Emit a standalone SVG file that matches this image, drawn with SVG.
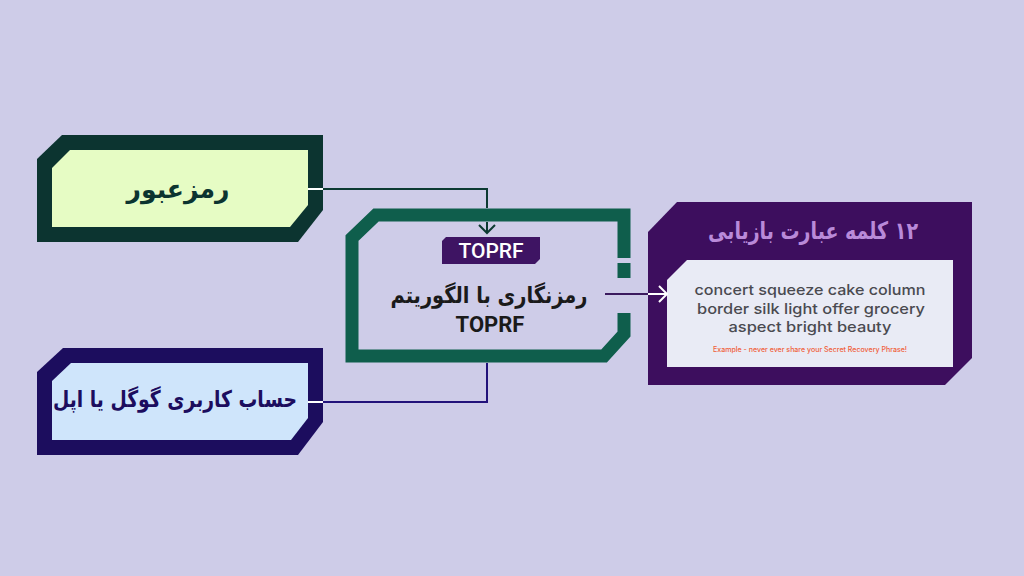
<svg xmlns="http://www.w3.org/2000/svg" width="1024" height="576" viewBox="0 0 1024 576">
<style>
.fa{font-family:"DejaVu Sans",sans-serif;font-weight:bold;text-anchor:middle}
.en{font-family:Inter,"Open Sans","Liberation Sans",sans-serif;text-anchor:middle;font-weight:500}
.ln{fill:none;stroke-width:2}
</style>
<rect width="1024" height="576" fill="#cecce8"/>
<g id="node-password">
<path d="M62,135 L323,135 L323,210 L298,242 L37,242 L37,159 Z" fill="#0c3430"/>
<path d="M70,150 L308,150 L308,205 L290,227 L52,227 L52,168 Z" fill="#e6fcc4"/>
<text class="fa" x="178" y="198" font-size="26" fill="#0c3430" direction="rtl" textLength="103" lengthAdjust="spacingAndGlyphs">رمزعبور</text>
</g>
<g id="node-account">
<path d="M63,348 L323,348 L323,422 L298,455 L37,455 L37,372 Z" fill="#1c0d5e"/>
<path d="M71,363 L308,363 L308,418 L291,440 L52,440 L52,381 Z" fill="#cfe5fb"/>
<text class="fa" x="175" y="407" font-size="23" fill="#1c0d5e" direction="rtl" textLength="244" lengthAdjust="spacingAndGlyphs">حساب کاربری گوگل یا اپل</text>
</g>
<g id="node-toprf">
<path d="M624,258 L624,215 L376,215 L352,238 L352,356 L604,356 L624,334 L624,313" fill="none" stroke="#0f5e4c" stroke-width="13" stroke-linejoin="miter"/>
<path d="M624,263 L624,278" fill="none" stroke="#0f5e4c" stroke-width="13"/>
<path d="M446,237 L540,237 L540,259 L535,264 L442,264 L442,241 Z" fill="#3e1463"/>
<text x="491" y="258" font-family="Roboto,'Liberation Sans',sans-serif" font-weight="500" font-size="21" fill="#ffffff" text-anchor="middle">TOPRF</text>
<text class="fa" x="489" y="303" font-size="23" fill="#1a1a1a" direction="rtl" textLength="197" lengthAdjust="spacingAndGlyphs">رمزنگاری با الگوریتم</text>
<text x="490" y="332" font-family="Roboto,'Liberation Sans',sans-serif" font-weight="bold" font-size="22" fill="#1a1a1a" text-anchor="middle">TOPRF</text>
</g>
<g id="node-phrase">
<path d="M677,202 L972,202 L972,358 L945,385 L648,385 L648,232 Z" fill="#3d0e5e"/>
<path d="M687,260 L953,260 L953,367 L667,367 L667,280 Z" fill="#e9ebf5"/>
<text class="fa" x="813" y="239" font-size="24" fill="#b98ad9" direction="rtl" textLength="210" lengthAdjust="spacingAndGlyphs">۱۲ کلمه عبارت بازیابی</text>
<text class="en" x="810" y="295" font-size="14.5" fill="#4a4a50" textLength="231" lengthAdjust="spacingAndGlyphs">concert squeeze cake column</text>
<text class="en" x="811" y="314" font-size="14.5" fill="#4a4a50" textLength="228" lengthAdjust="spacingAndGlyphs">border silk light offer grocery</text>
<text class="en" x="810" y="332" font-size="14.5" fill="#4a4a50" textLength="163" lengthAdjust="spacingAndGlyphs">aspect bright beauty</text>
<text class="en" x="810" y="352" font-size="7" fill="#f0603a" textLength="194" lengthAdjust="spacingAndGlyphs">Example - never ever share your Secret Recovery Phrase!</text>
</g>
<g id="connectors">
<path class="ln" d="M308,189 H323" stroke="#ffffff"/>
<path class="ln" d="M323,189 H487 V208" stroke="#0c3a32"/>
<path class="ln" d="M487,222 V233" stroke="#0c3a32"/>
<path class="ln" d="M479,225 L487,233 L495,225" stroke="#0c3a32"/>
<path class="ln" d="M605,294 H648" stroke="#3b1a5e"/>
<path class="ln" d="M648,294 H666" stroke="#ffffff"/>
<path class="ln" d="M659,286 L667,294 L659,302" stroke="#ffffff"/>
<path class="ln" d="M487,363 V402 H323" stroke="#22117a"/>
<path class="ln" d="M308,402 H323" stroke="#ffffff"/>
</g>
</svg>
